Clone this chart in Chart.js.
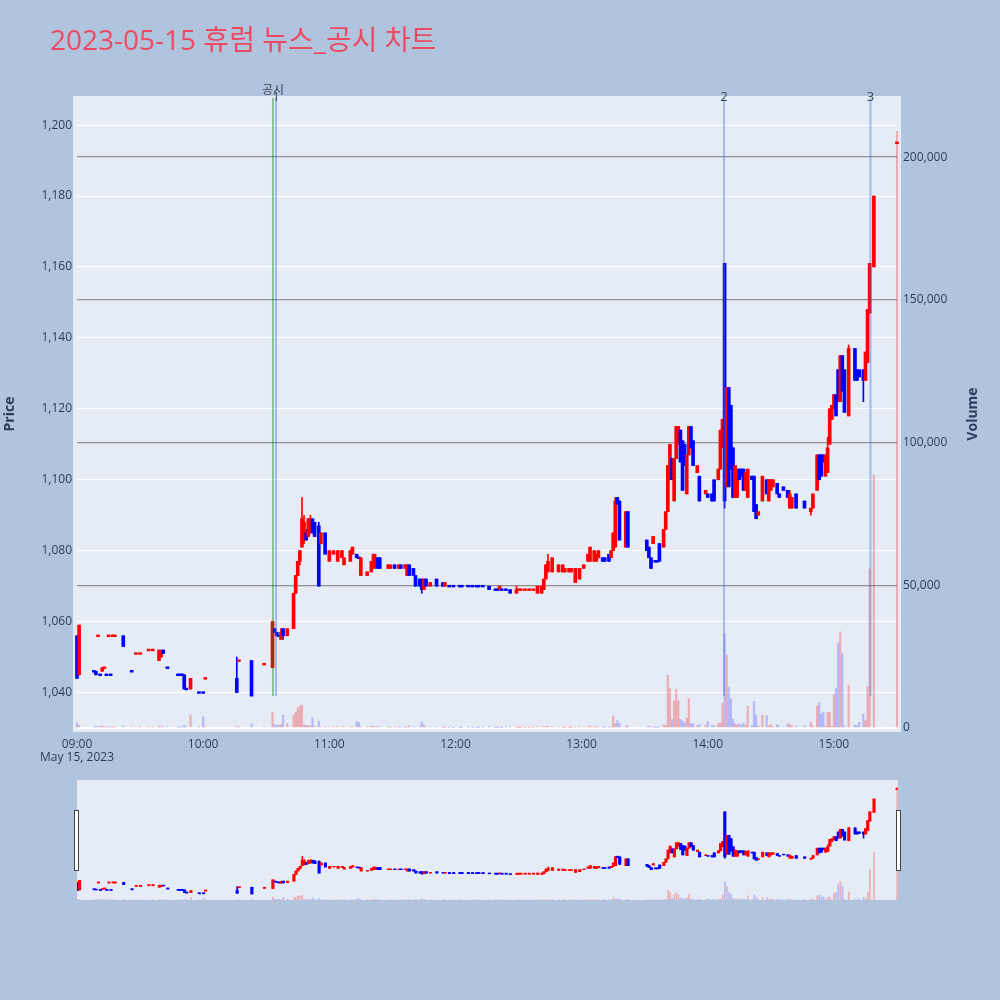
<!DOCTYPE html>
<html>
<head>
<meta charset="utf-8">
<script src="https://cdn.jsdelivr.net/npm/chart.js@4.4.0/dist/chart.umd.min.js"></script>
<style>
  html, body { margin: 0; padding: 0; background: #b0c4de; }
  #wrap { position: relative; width: 1000px; height: 1000px; }
  #main { position: absolute; left: 0; top: 0; }
  #slider { position: absolute; left: 77px; top: 780px; background: #e5ecf6; }
  .handle { position: absolute; top: 810px; width: 3px; height: 59px; background: #fff; border: 1px solid #444; }
</style>
</head>
<body>
<div id="wrap">
  <canvas id="main" width="1000" height="1000"></canvas>
  <canvas id="slider" width="821" height="120"></canvas>
  <div class="handle" style="left:74px"></div>
  <div class="handle" style="left:896px"></div>
</div>
<script>
// 1분봉 (시각, 시가, 고가, 저가, 종가, 거래량)
const times = [
  '09:00','09:01','09:08','09:09','09:10','09:11','09:12','09:13','09:14','09:15','09:16','09:17','09:18','09:22','09:26','09:28','09:30','09:34','09:36','09:39','09:40','09:41','09:43','09:48','09:49','09:50','09:51','09:52','09:54','09:58','10:00','10:01',
  '10:16','10:17','10:23','10:29','10:33','10:34','10:35','10:36','10:37','10:38','10:40','10:43','10:44','10:45','10:46','10:47','10:48','10:49','10:50','10:51','10:52','10:53','10:55','10:56','10:58',
  '11:00','11:02','11:04','11:06','11:07','11:10','11:11','11:13','11:14','11:15','11:18','11:20','11:21','11:22','11:23','11:24','11:28','11:29','11:31','11:33','11:34','11:36','11:37','11:38','11:40','11:41','11:43','11:44','11:45','11:46','11:48','11:51','11:54','11:55','11:57','11:59',
  '12:02','12:03','12:06','12:08','12:10','12:11','12:13','12:16','12:19','12:20','12:21','12:22','12:24','12:26','12:29','12:30','12:31','12:33','12:35','12:37','12:39','12:41','12:42','12:43','12:44','12:46','12:49','12:51','12:52','12:54','12:55','12:57','12:59',
  '13:01','13:03','13:04','13:06','13:07','13:08','13:10','13:11','13:13','13:14','13:15','13:16','13:17','13:18','13:21','13:22','13:31','13:32','13:33','13:34','13:35','13:36','13:37','13:39','13:40','13:41','13:42','13:43','13:44','13:45','13:46','13:47','13:48','13:49','13:50','13:51','13:52','13:53','13:55','13:56','13:59',
  '14:00','14:02','14:03','14:05','14:06','14:07','14:08','14:09','14:10','14:11','14:12','14:13','14:14','14:15','14:16','14:17','14:18','14:19','14:21','14:22','14:23','14:24','14:26','14:28','14:29','14:30','14:31','14:33','14:34','14:36','14:38','14:39','14:40','14:42','14:46','14:49','14:50','14:52','14:53','14:54','14:55','14:56','14:57','14:58','14:59',
  '15:00','15:01','15:02','15:03','15:04','15:05','15:07','15:10','15:11','15:12','15:14','15:15','15:16','15:17','15:19','15:30'
];
const opens = [
  1056,1045,1046,1046,1056,1045,1046,1047,1045,1056,1045,1056,1056,1056,1046,1051,1051,1052,1052,1049,1050,1052,1047,1045,1045,1045,1045,1041,1041,1040,1040,1044,
  1044,1049,1049,1048,1047,1058,1057,1056,1055,1058,1056,1058,1068,1073,1077,1081,1083,1085,1084,1085,1089,1088,1087,1082,1085,
  1077,1079,1077,1078,1076,1077,1079,1079,1078,1073,1073,1074,1075,1076,1078,1078,1075,1075,1076,1075,1076,1075,1073,1076,1075,1073,1072,1072,1069,1072,1070,1072,1071,1070,1070,1070,
  1070,1070,1070,1070,1070,1070,1070,1070,1069,1069,1069,1069,1069,1069,1068,1069,1069,1069,1069,1069,1068,1068,1069,1072,1074,1074,1074,1074,1074,1074,1074,1071,1072,
  1075,1077,1077,1077,1077,1078,1078,1078,1079,1078,1080,1081,1095,1094,1081,1091,1083,1081,1078,1082,1077,1077,1082,1081,1086,1091,1100,1106,1094,1106,1110,1114,1111,1110,1096,1107,1115,1111,1102,1101,1096,
  1096,1096,1100,1100,1103,1109,1161,1098,1126,1121,1109,1095,1095,1103,1103,1103,1097,1095,1101,1101,1093,1090,1094,1100,1094,1097,1098,1099,1096,1098,1097,1092,1092,1096,1094,1091,1092,1097,1107,1107,1107,1101,1102,1110,1117,
  1120,1124,1131,1122,1135,1131,1118,1137,1131,1131,1131,1128,1133,1147,1160,1195
];
const highs = [
  1056,1059,1046,1046,1056,1045,1047,1047,1045,1056,1045,1056,1056,1056,1046,1051,1051,1052,1052,1052,1052,1052,1047,1045,1045,1045,1045,1041,1044,1040,1040,1044,
  1050,1049,1049,1048,1060,1058,1057,1056,1058,1058,1058,1068,1073,1077,1080,1095,1090,1086,1089,1090,1089,1088,1088,1085,1085,
  1080,1080,1080,1080,1078,1080,1081,1079,1078,1078,1074,1077,1079,1079,1078,1078,1076,1076,1076,1076,1076,1076,1076,1076,1075,1073,1072,1072,1072,1072,1071,1072,1071,1071,1070,1070,
  1070,1070,1070,1070,1070,1070,1070,1070,1069,1069,1070,1069,1069,1069,1070,1069,1069,1069,1069,1069,1070,1070,1072,1076,1079,1078,1076,1076,1075,1075,1075,1075,1075,
  1076,1079,1081,1080,1079,1080,1078,1078,1079,1080,1085,1095,1095,1094,1091,1091,1083,1081,1078,1084,1077,1077,1082,1086,1091,1104,1110,1106,1106,1115,1115,1114,1111,1110,1107,1115,1115,1111,1104,1101,1097,
  1096,1096,1100,1103,1114,1117,1161,1126,1126,1121,1109,1104,1103,1103,1103,1103,1102,1103,1101,1101,1093,1091,1101,1100,1100,1100,1100,1099,1096,1098,1097,1097,1095,1096,1094,1092,1096,1107,1107,1107,1107,1107,1112,1120,1121,
  1124,1124,1131,1135,1135,1131,1138,1137,1131,1131,1131,1136,1148,1161,1180,1195
];
const lows = [
  1044,1045,1046,1045,1056,1045,1046,1047,1045,1056,1045,1056,1056,1053,1046,1051,1051,1052,1052,1049,1050,1051,1047,1045,1045,1045,1041,1041,1041,1040,1040,1044,
  1040,1049,1039,1048,1047,1057,1056,1056,1055,1055,1056,1058,1068,1073,1076,1081,1082,1083,1084,1085,1085,1084,1070,1082,1079,
  1077,1079,1077,1078,1076,1077,1079,1078,1078,1073,1073,1074,1075,1075,1075,1075,1075,1075,1075,1075,1075,1075,1073,1073,1073,1070,1070,1068,1069,1070,1070,1070,1070,1070,1070,1070,
  1070,1070,1070,1070,1070,1070,1070,1069,1069,1069,1069,1069,1069,1068,1068,1069,1069,1069,1069,1069,1068,1068,1069,1072,1074,1074,1074,1074,1074,1074,1074,1071,1072,
  1075,1077,1077,1077,1077,1078,1077,1077,1077,1078,1080,1081,1093,1083,1081,1081,1080,1078,1075,1082,1077,1077,1077,1081,1086,1091,1100,1100,1094,1106,1110,1105,1097,1104,1096,1107,1109,1104,1102,1094,1096,
  1095,1094,1094,1100,1103,1109,1092,1098,1098,1103,1095,1095,1095,1100,1101,1097,1097,1095,1100,1091,1089,1090,1094,1096,1094,1097,1098,1096,1095,1097,1095,1092,1092,1092,1092,1090,1092,1097,1100,1101,1105,1101,1102,1110,1117,
  1120,1118,1122,1122,1125,1119,1118,1128,1128,1129,1122,1128,1133,1147,1160,1195
];
const closes = [
  1044,1059,1046,1045,1056,1045,1047,1047,1045,1056,1045,1056,1056,1053,1046,1051,1051,1052,1052,1052,1051,1051,1047,1045,1045,1045,1041,1041,1044,1040,1040,1044,
  1040,1049,1039,1048,1060,1057,1056,1056,1057,1056,1058,1068,1073,1077,1080,1089,1088,1083,1089,1089,1085,1084,1070,1085,1079,
  1080,1080,1080,1080,1078,1080,1081,1078,1078,1078,1074,1077,1079,1078,1075,1075,1076,1076,1075,1076,1075,1076,1076,1073,1073,1070,1070,1069,1072,1070,1071,1070,1070,1071,1070,1070,
  1070,1070,1070,1070,1070,1070,1070,1069,1069,1069,1070,1069,1069,1068,1069,1069,1069,1069,1069,1069,1070,1070,1072,1076,1077,1078,1076,1076,1075,1075,1075,1075,1075,
  1076,1079,1081,1080,1079,1080,1077,1077,1077,1080,1085,1094,1093,1083,1091,1081,1080,1078,1075,1084,1077,1077,1077,1086,1091,1104,1110,1100,1106,1115,1115,1105,1097,1104,1107,1115,1109,1104,1104,1094,1097,
  1095,1094,1094,1103,1114,1117,1094,1126,1098,1103,1095,1104,1103,1100,1101,1097,1102,1103,1100,1091,1089,1091,1101,1096,1100,1100,1100,1096,1095,1097,1095,1096,1095,1092,1092,1092,1096,1107,1100,1101,1105,1107,1109,1120,1121,
  1124,1118,1122,1135,1125,1119,1137,1128,1128,1129,1128,1136,1148,1161,1180,1195
];
const volumes = [
  1800,900,400,600,300,500,700,300,400,300,300,200,300,700,300,400,300,300,300,600,400,300,300,300,200,400,1000,300,4500,500,3900,300,
  500,300,1500,300,5600,1200,800,1000,1200,4500,1500,4500,5600,7000,7700,8000,1000,900,700,800,3500,600,2400,300,500,
  400,300,300,400,300,300,400,2200,2000,300,500,700,600,500,400,300,300,200,300,200,300,200,300,700,300,400,500,2200,1000,300,300,400,200,200,200,100,
  200,100,200,100,200,100,200,600,100,100,300,100,200,400,300,100,100,100,100,200,300,300,400,500,600,500,300,200,200,200,100,300,200,
  300,400,700,500,300,300,300,200,400,300,4200,1500,2600,1600,600,800,400,500,400,300,200,200,400,1100,900,18500,14000,3000,9500,13600,9500,3000,2500,1800,3500,10300,1500,1500,800,1200,1000,
  2300,800,1000,1700,1700,8700,33000,25500,14300,10300,3000,1500,1200,1500,1000,1800,1000,7600,800,9300,4500,600,4500,4300,800,1200,600,1200,500,400,1400,1400,800,600,800,2100,700,7700,9000,5000,5500,600,5500,5500,600,
  11700,13800,29600,33700,26000,800,15000,1000,800,2000,4900,2500,14500,55700,88600,209000
];

// 뉴스/공시 시각
const markerTimes = ['10:33:12', '10:34:39', '14:07:42', '15:17:24'];
const markerLabels = ['공시', '1', '2', '3'];
const markerKinds = ['disclosure', 'news', 'news', 'news'];

// 축 눈금
const xTickLabels = ['09:00', '10:00', '11:00', '12:00', '13:00', '14:00', '15:00'];
const priceTicks = [1040, 1060, 1080, 1100, 1120, 1140, 1160, 1180, 1200];
const volumeTicks = [0, 50000, 100000, 150000, 200000];

const UP = '#ff0000', DOWN = '#0000ff';
const UP_V = 'rgba(255,0,0,0.27)', DOWN_V = 'rgba(0,0,255,0.22)';
const TEXT = '#2a3f5f';
const FONT = '"Open Sans", "Noto Sans CJK KR", sans-serif';

const toMin = t => {
  const p = t.split(':').map(Number);
  return (p[0] - 9) * 60 + p[1] + (p[2] || 0) / 60;
};
const mins = times.map(toMin);

// plotly 방식 방향 판정: 시가=종가면 직전 종가와 비교
const dirs = [];
let prevUp = true;
for (let i = 0; i < closes.length; i++) {
  let up;
  if (closes[i] > opens[i]) up = true;
  else if (closes[i] < opens[i]) up = false;
  else if (i > 0 && closes[i] > closes[i - 1]) up = true;
  else if (i > 0 && closes[i] < closes[i - 1]) up = false;
  else up = prevUp;
  dirs.push(up);
  prevUp = up;
}
const dayLow = Math.min(...lows);

function candleSets(bodyW, wickW, volW, dojiHalf) {
  return [
    {
      label: 'body', yAxisID: 'y', order: 1, grouped: false, clip: 4,
      barThickness: bodyW,
      backgroundColor: dirs.map(u => u ? UP : DOWN),
      data: mins.map((m, i) => {
        const a = Math.min(opens[i], closes[i]), b = Math.max(opens[i], closes[i]);
        return { x: m, y: a === b ? [a - dojiHalf, b + dojiHalf] : [a, b] };
      })
    },
    {
      label: 'wick', yAxisID: 'y', order: 2, grouped: false, clip: 4,
      barThickness: wickW,
      backgroundColor: dirs.map(u => u ? UP : DOWN),
      data: mins.map((m, i) => ({ x: m, y: [lows[i], highs[i]] }))
    },
    {
      label: 'volume', yAxisID: 'y2', order: 3, grouped: false, clip: 4,
      barThickness: volW,
      backgroundColor: dirs.map(u => u ? UP_V : DOWN_V),
      data: mins.map((m, i) => ({ x: m, y: volumes[i] }))
    }
  ];
}

Chart.defaults.font.family = FONT;
Chart.defaults.font.size = 12;
Chart.defaults.color = TEXT;

const decor = {
  id: 'decor',
  beforeDraw(chart) {
    const { ctx, chartArea: a } = chart;
    ctx.save();
    ctx.fillStyle = '#e5ecf6';
    ctx.fillRect(a.left - 4, a.top, a.right - a.left + 8, a.bottom - a.top + 4);
    ctx.restore();
  },
  afterDatasetsDraw(chart) {
    const { ctx, chartArea: a, scales } = chart;
    const yBot = scales.y.getPixelForValue(dayLow);
    ctx.save();
    ctx.lineWidth = 2;
    markerTimes.forEach((t, i) => {
      const x = scales.x.getPixelForValue(toMin(t));
      ctx.strokeStyle = markerKinds[i] === 'disclosure' ? 'rgba(0,128,0,0.4)' : 'rgba(65,105,225,0.4)';
      ctx.beginPath();
      ctx.moveTo(x, a.top + 2);
      ctx.lineTo(x, yBot);
      ctx.stroke();
    });
    ctx.restore();
  },
  afterDraw(chart) {
    const { ctx, chartArea: a, scales } = chart;
    ctx.save();
    // 제목
    ctx.fillStyle = '#ee4b62';
    ctx.font = '28px ' + FONT;
    ctx.textAlign = 'left';
    ctx.textBaseline = 'alphabetic';
    ctx.fillText('2023-05-15 휴럼 뉴스_공시 차트', 50, 50, 392);

    // 마커 라벨
    ctx.fillStyle = '#3a4556';
    ctx.textAlign = 'center';
    ctx.textBaseline = 'middle';
    markerTimes.forEach((t, i) => {
      const x = scales.x.getPixelForValue(toMin(t));
      if (markerKinds[i] === 'disclosure') {
        ctx.font = '12px ' + FONT;
        ctx.fillText(markerLabels[i], x, a.top - 5);
      } else {
        ctx.font = '13px ' + FONT;
        ctx.fillText(markerLabels[i], x, a.top + 1);
      }
    });

    // 날짜
    ctx.fillStyle = TEXT;
    ctx.font = '12px ' + FONT;
    ctx.fillText('May 15, 2023', scales.x.getPixelForValue(0), a.bottom + 30);

    // 축 제목
    ctx.font = 'bold 14px ' + FONT;
    ctx.translate(10, 414);
    ctx.rotate(-Math.PI / 2);
    ctx.fillText('Price', 0, 0);
    ctx.setTransform(1, 0, 0, 1, 0, 0);
    ctx.translate(973, 414);
    ctx.rotate(-Math.PI / 2);
    ctx.fillText('Volume', 0, 0);
    ctx.restore();
  }
};

new Chart(document.getElementById('main'), {
  type: 'bar',
  data: { datasets: candleSets(3, 1, 1.5, 0.25) },
  plugins: [decor],
  options: {
    responsive: false,
    animation: false,
    devicePixelRatio: 1,
    events: [],
    layout: { padding: { top: 96, left: 0, right: 0, bottom: 232 } },
    plugins: { legend: { display: false }, tooltip: { enabled: false } },
    scales: {
      x: {
        type: 'linear', min: 0, max: 390, offset: false,
        grid: { display: false }, border: { display: false },
        afterBuildTicks: s => { s.ticks = xTickLabels.map(t => ({ value: toMin(t) })); },
        ticks: { callback: (v, i) => xTickLabels[i], padding: 1, maxRotation: 0, autoSkip: false },
        afterFit: s => { s.height = 40; }
      },
      y: {
        position: 'left', min: 1030, max: 1208.2,
        grid: { color: '#ffffff', lineWidth: 1, drawTicks: false }, border: { display: false },
        afterBuildTicks: s => { s.ticks = priceTicks.map(v => ({ value: v })); },
        ticks: { callback: v => v.toLocaleString('en-US'), padding: 5 },
        afterFit: s => { s.width = 77; }
      },
      y2: {
        position: 'right', min: 0, max: 221400,
        grid: {
          color: c => c.tick && c.tick.value === 0 ? '#ffffff' : '#909090',
          lineWidth: c => c.tick && c.tick.value === 0 ? 2 : 1.2,
          drawTicks: false
        },
        border: { display: false },
        afterBuildTicks: s => { s.ticks = volumeTicks.map(v => ({ value: v })); },
        ticks: { callback: v => v.toLocaleString('en-US'), padding: 6 },
        afterFit: s => { s.width = 103; }
      }
    }
  }
});

// 하단 레인지 슬라이더 (전체 구간 미니 차트)
new Chart(document.getElementById('slider'), {
  type: 'bar',
  data: { datasets: candleSets(2.5, 1, 1, 0.9) },
  options: {
    responsive: false,
    animation: false,
    devicePixelRatio: 1,
    events: [],
    layout: { padding: 0 },
    plugins: { legend: { display: false }, tooltip: { enabled: false } },
    scales: {
      x: { type: 'linear', display: false, min: -0.2, max: 390.4, offset: false },
      y: { display: false, min: 1030, max: 1208.2 },
      y2: { display: false, min: 0, max: 221400 }
    }
  }
});
</script>
</body>
</html>
